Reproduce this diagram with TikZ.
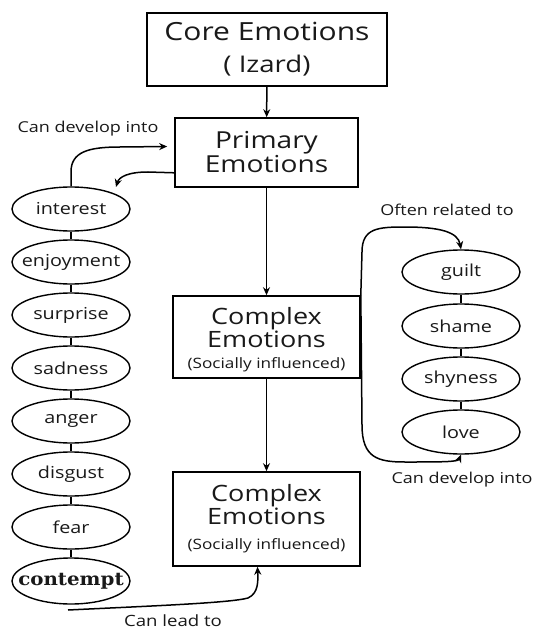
\documentclass[tikz,border=0pt]{standalone}
\usepackage{fontspec}
\setmainfont{Open Sans}[FakeStretch=1.2]
\newfontfamily\serifbold{DejaVu Serif}[FakeStretch=1.1]
\usetikzlibrary{arrows.meta,shapes.geometric,calc}
\newcommand\ztext[1]{\makebox[0pt]{#1}}
\begin{document}
\begin{tikzpicture}[x=1pt,y=-1pt,
  line width=1.5pt,
  box/.style={draw, line width=1.6pt, align=center, inner sep=0pt, text=black!90},
  emo/.style={draw, ellipse, line width=1.4pt, minimum width=118pt, minimum height=44pt, inner sep=0pt, text=black!90, font=\fontsize{16.5}{16.5}\selectfont},
  arr/.style={-{Stealth[length=8pt,width=7pt]}, line width=1.5pt},
  lbl/.style={font=\fontsize{15}{15}\selectfont, text=black!90}
]
\useasboundingbox (0,0) rectangle (534,631);
\fill[white] (0,0) rectangle (534,631);

\node[box, minimum width=240pt, minimum height=73pt, font=\fontsize{25}{32}\selectfont] (core) at (267,49.5) {Core Emotions\\\fontsize{23}{32}\selectfont( Izard)};
\node[box, minimum width=183pt, minimum height=69pt, font=\fontsize{23.4}{24}\selectfont] (prim) at (266.5,152.5) {Primary\\Emotions};
\node[box, minimum width=187pt, minimum height=82pt, font=\fontsize{22.5}{23}\selectfont] (c1) at (266.5,337) {\rule{0pt}{22pt}Complex\\Emotions\\[-2pt]\fontsize{14.3}{16}\selectfont (Socially influenced)};
\node[box, minimum width=187pt, minimum height=94pt, font=\fontsize{22.5}{23}\selectfont] (c2) at (266.5,519) {Complex\\Emotions\\[2pt]\fontsize{14.3}{16}\selectfont (Socially influenced)};

\draw[arr] (core) -- (prim);
\draw[arr] (prim) -- (c1);
\draw[arr] (c1) -- (c2);

% left column
\node[emo] (e1) at (71,209) {\ztext{interest}};
\node[emo] (e2) at (71,262) {\ztext{enjoyment}};
\node[emo] (e3) at (71,315) {\ztext{surprise}};
\node[emo] (e4) at (71,368) {\ztext{sadness}};
\node[emo] (e5) at (71,421) {\ztext{anger}};
\node[emo] (e6) at (71,474) {\ztext{disgust}};
\node[emo] (e7) at (71,527) {\ztext{fear}};
\node[emo, minimum height=46pt, font=\serifbold\bfseries\fontsize{18}{18}\selectfont] (e8) at (71,581) {\ztext{contempt}};
\foreach \a/\b in {e1/e2,e2/e3,e3/e4,e4/e5,e5/e6,e6/e7,e7/e8}
  \draw (\a.south) -- (\b.north);

% right column
\node[emo] (r1) at (461,272) {\ztext{guilt}};
\node[emo] (r2) at (461,326) {\ztext{shame}};
\node[emo] (r3) at (461,379) {\ztext{shyness}};
\node[emo] (r4) at (461,432) {\ztext{love}};
\foreach \a/\b in {r1/r2,r2/r3,r3/r4}
  \draw (\a.south) -- (\b.north);

% labels
\node[lbl] (l1) at (88,129) {Can develop into};
\node[lbl] (l2) at (447,210) {Often related to};
\node[lbl] (l3) at (462,480) {Can develop into};
\node[lbl, font=\fontsize{15.5}{15.5}\selectfont] (l4) at (173,621) {Can lead to};

% left curved arrows
\coordinate (a1) at ($(prim.west)+(-7,-6)$);
\draw[arr] (e1.north) -- (71,172) .. controls (71,152) and (88,147) .. (120,147) -- (a1);
\coordinate (b0) at ($(prim.south west)+(0,-15)$);
\coordinate (b1) at (116,187);
\draw[arr] (b0) -- (148,172) .. controls (128,172) and (119,177) .. (b1);

% right curved arrows
\draw[arr] (c1.north east) -- (362,252) .. controls (362,228) and (378,227) .. (405,227) .. controls (440,227) and (458,232) .. (r1.north);
\draw[arr] (c1.north east) -- (362,425) .. controls (362,458) and (378,462) .. (405,462) .. controls (440,462) and (458,462) .. (r4.south);

% bottom arrow
\coordinate (d0) at (68,610);
\coordinate (d1) at ($(c2.south)+(-9,0)$);
\draw[arr] (d0) .. controls (150,606) and (230,603) .. (248,598) .. controls (259,593) and (258,580) .. (d1);
\end{tikzpicture}
\end{document}
